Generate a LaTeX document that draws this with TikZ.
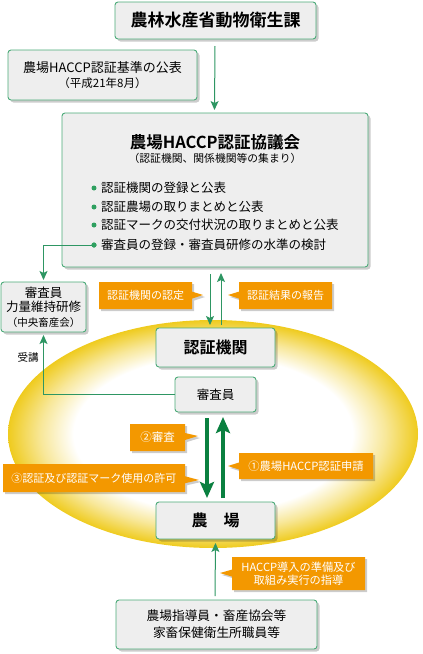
\documentclass[tikz,border=0pt]{standalone}
\usepackage{fontspec}
\setmainfont{Noto Sans CJK JP}[BoldFont={Noto Sans CJK JP Bold}]
\usetikzlibrary{shapes.callouts,shadows,arrows.meta,calc}
\definecolor{boxg}{HTML}{EEEEEE}
\definecolor{bord}{HTML}{4BAA78}
\definecolor{arr}{HTML}{2E9663}
\definecolor{thickg}{HTML}{0A8040}
\definecolor{orng}{HTML}{F39800}
\definecolor{gold}{HTML}{EFCB1E}
\definecolor{dotg}{HTML}{2FA060}
\pgfdeclareradialshading{ringshade}{\pgfpoint{0bp}{0bp}}{color(0bp)=(white); color(17bp)=(white); color(21bp)=(gold!45!white); color(25bp)=(gold); color(50bp)=(gold)}
\newcommand\fsz[2]{\fontsize{#1}{#2}\selectfont}
\tikzset{
  gbox/.style={draw=bord, line width=0.9pt, fill=boxg, rounded corners=3pt,
    drop shadow={shadow xshift=2.5pt, shadow yshift=-2.5pt, fill=black, opacity=0.2},
    align=center, inner sep=0pt, outer sep=0pt},
  cbox/.style={rectangle callout, fill=orng, text=white, inner sep=0pt, outer sep=0pt,
    callout pointer width=7pt, align=center,
    drop shadow={shadow xshift=2pt, shadow yshift=-2pt, fill=black, opacity=0.2}},
  thinarr/.style={draw=arr, line width=1pt, -{Stealth[length=9pt,width=8pt,inset=2pt]}},
  thickarr/.style={draw=thickg, line width=4pt, -{Stealth[length=16pt,width=14pt,inset=3pt]}},
  dot/.style={circle, fill=dotg, minimum size=5pt, inner sep=0pt},
  item/.style={anchor=west, inner sep=0pt, font=\fsz{12.5}{14}},
}
\begin{document}
\begin{tikzpicture}[x=1pt,y=-1pt]
\useasboundingbox (0,0) rectangle (423,654);
% ellipse
\shade[shading=ringshade] (213,434) ellipse [x radius=205, y radius=114];

% boxes
\node[gbox, minimum width=201pt, minimum height=37pt, font=\bfseries\fsz{17}{20}] (title) at (215.5,20.5) {農林水産省動物衛生課};
\node[gbox, minimum width=189pt, minimum height=50pt, font=\fsz{13}{16}] (kijun) at (102.5,75) {農場HACCP認証基準の公表\\[-1pt]\fsz{11.5}{13}（平成21年8月）};
\node[gbox, minimum width=306pt, minimum height=154pt] (council) at (215,190) {};
\node[font=\bfseries\fsz{16.5}{18}, inner sep=0pt] (ctitle) at (215,142) {農場HACCP認証協議会};
\node[font=\fsz{10.8}{12}, inner sep=0pt] (csub) at (215,158) {（認証機関、関係機関等の集まり）};
\node[dot] (d1) at (94,188) {};
\node[dot] (d2) at (94,207) {};
\node[dot] (d3) at (94,225) {};
\node[dot] (d4) at (94,245) {};
\node[item] (b1) at (101,188) {認証機関の登録と公表};
\node[item] (b2) at (101,207) {認証農場の取りまとめと公表};
\node[item] (b3) at (101,225) {認証マークの交付状況の取りまとめと公表};
\node[item] (b4) at (101,245) {審査員の登録・審査員研修の水準の検討};

\node[gbox, minimum width=85pt, minimum height=50pt, font=\fsz{12.5}{14.5}] (kenshu) at (43.5,307) {審査員\\力量維持研修\\\fsz{10.5}{13}（中央畜産会）};
\node[gbox, minimum width=119pt, minimum height=39pt, font=\bfseries\fsz{16}{18}] (kikan) at (215.5,347.5) {認証機関};
\node[gbox, minimum width=81pt, minimum height=35pt, font=\fsz{12.5}{14}] (shinsain) at (215.5,394.5) {審査員};
\node[gbox, minimum width=119pt, minimum height=37pt, font=\bfseries\fsz{16}{18}] (farm) at (215.5,520.5) {農　場};
\node[gbox, minimum width=201pt, minimum height=49pt, font=\fsz{12.7}{17}] (bottom) at (216.5,624.5) {農場指導員・畜産協会等\\家畜保健衛生所職員等};

\node[font=\fsz{10.5}{12}, inner sep=0pt] (juko) at (28,357) {受講};

% callouts
\node[cbox, minimum width=93pt, minimum height=27pt, font=\fsz{11}{13}, callout absolute pointer={(203,295)}] (c1) at (145.5,295.5) {認証機関の認定};
\node[cbox, minimum width=93pt, minimum height=27pt, font=\fsz{11}{13}, callout absolute pointer={(228,295)}] (c2) at (285.5,295.5) {認証結果の報告};
\node[cbox, minimum width=55pt, minimum height=27pt, font=\fsz{11.5}{13}, callout absolute pointer={(198,436)}] (c3) at (157.5,437.5) {②審査};
\node[cbox, minimum width=182pt, minimum height=28pt, font=\fsz{11}{13}, callout absolute pointer={(199,480)}] (c4) at (94,478) {③認証及び認証マーク使用の許可};
\node[cbox, minimum width=134pt, minimum height=26pt, font=\fsz{11.3}{13}, callout absolute pointer={(228,466)}] (c5) at (306,466) {①農場HACCP認証申請};
\node[cbox, minimum width=133pt, minimum height=33pt, font=\fsz{11.2}{13.5}, callout absolute pointer={(220,573)}] (c6) at (298.5,573.5) {HACCP導入の準備及び\\取組み実行の指導};

% connectors
\draw[thinarr] ([xshift=-0.5pt,yshift=-7pt]title.south) -- ([xshift=-0.5pt,yshift=3pt]council.north);
\draw[thinarr] (d4.center) -| ([yshift=2pt]kenshu.north);
\draw[thinarr] ([xshift=-5pt,yshift=-7pt]council.south) -- ([xshift=-5.5pt,yshift=3pt]kikan.north);
\draw[thinarr] ([xshift=5.5pt,yshift=3pt]kikan.north) -- ([xshift=6pt,yshift=-6pt]council.south);
\draw[thinarr] (shinsain.west) -| ([yshift=-3pt]kenshu.south);
\draw[thickarr] ([xshift=-8.5pt,yshift=-6pt]shinsain.south) -- ([xshift=-8.5pt,yshift=4pt]farm.north);
\draw[thickarr] ([xshift=7.5pt,yshift=4pt]farm.north) -- ([xshift=7.5pt,yshift=-5pt]shinsain.south);
\draw[thinarr] ([xshift=-1.5pt,yshift=4pt]bottom.north) -- ([yshift=-4pt]farm.south);
\node[dot] at (d4) {};
\end{tikzpicture}
\end{document}
